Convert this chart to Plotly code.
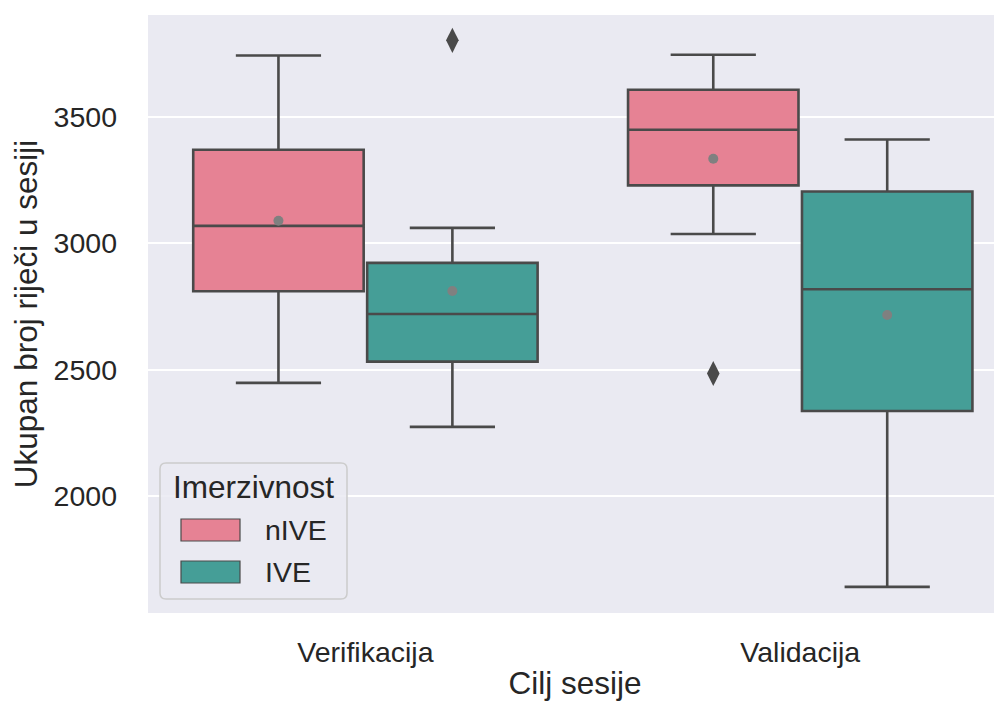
import plotly.graph_objects as go

# ---- data ----
categories = ["Verifikacija", "Validacija"]
groups = ["nIVE", "IVE"]
colors = ["#e68294", "#459e97"]

q1 = {"nIVE": [2810, 3228], "IVE": [2532, 2337]}
median = {"nIVE": [3068, 3448], "IVE": [2720, 2818]}
q3 = {"nIVE": [3369, 3606], "IVE": [2922, 3204]}
lowerfence = {"nIVE": [2448, 3036], "IVE": [2274, 1642]}
upperfence = {"nIVE": [3741, 3744], "IVE": [3060, 3409]}
means = {"nIVE": [3088, 3333], "IVE": [2811, 2716]}
# outliers: (category index, value)
outliers = {"nIVE": [(1, 2485)], "IVE": [(0, 3801)]}

yticks = [2000, 2500, 3000, 3500]

LINE = "#4a4a4a"
TEXT = "#262626"
BG = "#eaeaf2"
FONT = "Liberation Sans, Arial, sans-serif"
TICK_SIZE = 28.5
LABEL_SIZE = 31.5

offsets = {"nIVE": -0.2, "IVE": 0.2}
fig = go.Figure()
for g, col in zip(groups, colors):
    xs = [i + offsets[g] for i in range(len(categories))]
    fig.add_trace(go.Box(
        x=xs, q1=q1[g], median=median[g], q3=q3[g],
        lowerfence=lowerfence[g], upperfence=upperfence[g],
        width=0.392, whiskerwidth=0.5, boxpoints=False,
        fillcolor=col, line=dict(color=LINE, width=2.6),
        name=g, showlegend=False, hoverinfo="skip",
    ))
    fig.add_trace(go.Scatter(
        x=xs, y=means[g], mode="markers",
        marker=dict(symbol="circle", size=10, color="#808080"),
        showlegend=False, hoverinfo="skip",
    ))
    if outliers[g]:
        fig.add_trace(go.Scatter(
            x=[c + offsets[g] for c, v in outliers[g]],
            y=[v for c, v in outliers[g]],
            mode="markers",
            marker=dict(symbol="diamond-tall", size=18, color=LINE),
            showlegend=False, hoverinfo="skip",
        ))

# ---- layout ----
# page has an 8px body margin; figure sized so it fits the window
OFF = 8
W, H = 994, 698
ml, mr, mt, mb = 140, 0, 7, 93
pw, ph = W - ml - mr, H - mt - mb

def px(x):  # screenshot pixel -> paper x
    return (x - OFF - ml) / pw

def py(y):  # screenshot pixel -> paper y
    return (H - mb - (y - OFF)) / ph

fig.update_layout(
    width=W, height=H,
    margin=dict(l=ml, r=mr, t=mt, b=mb),
    paper_bgcolor="white", plot_bgcolor=BG,
    font=dict(family=FONT, color=TEXT, size=TICK_SIZE),
    boxmode="overlay",
    showlegend=False,
    xaxis=dict(
        range=[-0.5, 1.464], tickmode="array", tickvals=[0, 1],
        ticktext=categories, showgrid=False, zeroline=False,
        showline=False, ticks="", tickfont=dict(size=TICK_SIZE),
        ticklabelstandoff=19,
        title=dict(text="Cilj sesije", font=dict(size=LABEL_SIZE), standoff=5),
    ),
    yaxis=dict(
        range=[1539, 3901], tickmode="array", tickvals=yticks,
        ticktext=[str(t) for t in yticks],
        showgrid=True, gridcolor="white", gridwidth=2,
        zeroline=False, showline=False, ticks="",
        tickfont=dict(size=TICK_SIZE), ticklabelstandoff=30,
        title=dict(text="Ukupan broj riječi u sesiji", font=dict(size=LABEL_SIZE), standoff=10),
    ),
)

# ---- custom legend (seaborn style) ----
x0, x1, y0, y1 = 160, 347, 463, 599
r = 6
path = (
    f"M {px(x0 + r)} {py(y0)} L {px(x1 - r)} {py(y0)} "
    f"Q {px(x1)} {py(y0)} {px(x1)} {py(y0 + r)} "
    f"L {px(x1)} {py(y1 - r)} Q {px(x1)} {py(y1)} {px(x1 - r)} {py(y1)} "
    f"L {px(x0 + r)} {py(y1)} Q {px(x0)} {py(y1)} {px(x0)} {py(y1 - r)} "
    f"L {px(x0)} {py(y0 + r)} Q {px(x0)} {py(y0)} {px(x0 + r)} {py(y0)} Z"
)
shapes = [dict(type="path", path=path, xref="paper", yref="paper",
               fillcolor="rgba(234,234,242,0.85)", line=dict(color="#cccccc", width=1.5),
               layer="above")]
annotations = [dict(x=px(253), y=py(487), xref="paper", yref="paper",
                    text="Imerzivnost", showarrow=False, font=dict(size=LABEL_SIZE),
                    xanchor="center", yanchor="middle")]
for i, (g, col) in enumerate(zip(groups, colors)):
    top = 519 + i * 42
    shapes.append(dict(type="rect", xref="paper", yref="paper",
                       x0=px(181), x1=px(240), y0=py(top), y1=py(top + 22),
                       fillcolor=col, line=dict(color=LINE, width=1.2), layer="above"))
    annotations.append(dict(x=px(263), y=py(top + 11), xref="paper", yref="paper",
                            text=g, showarrow=False, font=dict(size=TICK_SIZE),
                            xanchor="left", yanchor="middle"))
fig.update_layout(shapes=shapes, annotations=annotations)

fig.write_html("out.html")
